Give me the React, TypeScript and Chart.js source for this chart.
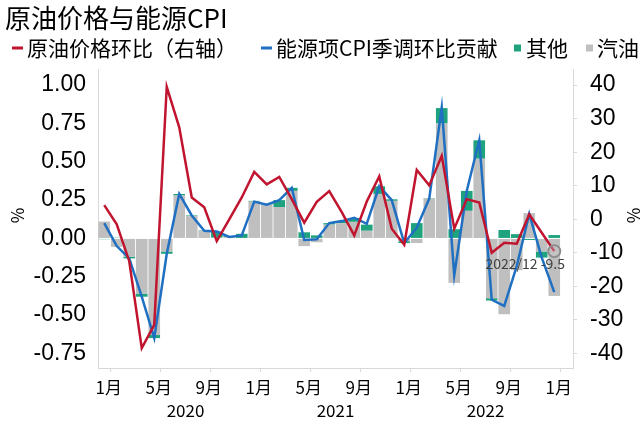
import React, { useEffect, useRef } from 'react';
import { Chart, registerables } from 'chart.js';

Chart.register(...registerables);

const TITLE = '原油价格与能源CPI';
const OIL_LABEL = '原油价格环比（右轴）';
const ENERGY_LABEL = '能源项CPI季调环比贡献';
const OTHER_LABEL = '其他';
const GAS_LABEL = '汽油';

// Dec 2019 .. Jan 2023 (last slot empty)
const months = [
  '2019-12',
  '2020-01', '2020-02', '2020-03', '2020-04', '2020-05', '2020-06',
  '2020-07', '2020-08', '2020-09', '2020-10', '2020-11', '2020-12',
  '2021-01', '2021-02', '2021-03', '2021-04', '2021-05', '2021-06',
  '2021-07', '2021-08', '2021-09', '2021-10', '2021-11', '2021-12',
  '2022-01', '2022-02', '2022-03', '2022-04', '2022-05', '2022-06',
  '2022-07', '2022-08', '2022-09', '2022-10', '2022-11', '2022-12',
  '2023-01',
];

const yearLabels = ['2020', '2021', '2022'];

// 原油价格环比 (%), right axis
const oilMoM = [
  4.2,
  -1.5, -12.5, -38.4, -31.5, 39.5, 27.4,
  6.5, 3.6, -6.5, 0.0, 6.5, 14.1,
  10.4, 12.6, 6.0, -1.0, 5.2, 8.4,
  2.1, -4.8, 5.3, 12.8, -2.8, -7.6,
  14.7, 10.1, 18.9, -2.8, 6.0, 5.0,
  -10.0, -7.0, -7.3, 1.5, -4.0, -9.5,
  null,
];

// 能源项CPI季调环比贡献 (%), left axis
const energyContribution = [
  0.10,
  -0.05, -0.13, -0.38, -0.65, -0.10, 0.29,
  0.15, 0.05, 0.045, 0.01, 0.02, 0.24,
  0.22, 0.25, 0.33, -0.01, -0.005, 0.10,
  0.113, 0.135, 0.095, 0.34, 0.25, -0.03,
  0.07, 0.26, 0.855, -0.24, 0.31, 0.64,
  -0.40, -0.44, -0.18, 0.16, -0.125, -0.35,
  null,
];

// 汽油 contribution
const gasoline = [
  0.11,
  -0.055, -0.12, -0.36, -0.63, -0.085, 0.28,
  0.145, 0.05, 0.005, 0.01, 0.0, 0.24,
  0.22, 0.205, 0.31, -0.05, -0.025, 0.09,
  0.10, 0.108, 0.05, 0.29, 0.245, -0.018,
  -0.03, 0.26, 0.75, -0.29, 0.18, 0.52,
  -0.39, -0.495, -0.207, 0.165, -0.085, -0.375,
  null,
];

// 其他 contribution
const other = [
  -0.005,
  0.005, -0.01, -0.02, -0.02, -0.015, 0.01,
  0.005, 0.003, 0.04, 0.005, 0.03, 0.005,
  0.003, 0.045, 0.02, 0.04, 0.02, 0.01,
  0.013, 0.025, 0.04, 0.05, 0.01, -0.012,
  0.10, 0.003, 0.10, 0.06, 0.13, 0.12,
  -0.015, 0.055, 0.028, -0.01, -0.04, 0.022,
  null,
];

const leftTicks = [-0.75, -0.5, -0.25, 0, 0.25, 0.5, 0.75, 1.0];
const rightTicks = [-40, -30, -20, -10, 0, 10, 20, 30, 40];

const RED = '#C0142F';
const BLUE = '#1F6FC2';
const TEAL = '#1FA37E';
const GRAY = '#BFBFBF';
const AXIS = '#D9D9D9';
const CJK = '"Noto Sans CJK SC", "Noto Sans", sans-serif';
const LATIN = '"Liberation Sans", Arial, sans-serif';

const LAST = 36;

const overlayPlugin = {
  id: 'overlay',
  afterDraw(chart: any) {
    const ctx = chart.ctx as CanvasRenderingContext2D;
    const xs = chart.scales.x;
    const area = chart.chartArea;
    ctx.save();

    // title
    ctx.fillStyle = '#000';
    ctx.textBaseline = 'middle';
    ctx.textAlign = 'left';
    ctx.font = `26px ${CJK}`;
    ctx.fillText(TITLE, 5, 18);

    // legend
    const ly = 48;
    ctx.font = `21px ${CJK}`;
    ctx.fillStyle = RED;
    ctx.fillRect(12, ly - 1.5, 11, 3);
    ctx.fillStyle = '#000';
    ctx.fillText(OIL_LABEL, 27, ly);
    ctx.fillStyle = BLUE;
    ctx.fillRect(261, ly - 1.5, 11, 3);
    ctx.fillStyle = '#000';
    ctx.fillText(ENERGY_LABEL, 276, ly);
    ctx.fillStyle = TEAL;
    ctx.fillRect(514, ly - 3.5, 7, 7);
    ctx.fillStyle = '#000';
    ctx.fillText(OTHER_LABEL, 526, ly);
    ctx.fillStyle = GRAY;
    ctx.fillRect(586, ly - 3.5, 7, 7);
    ctx.fillStyle = '#000';
    ctx.fillText(GAS_LABEL, 597, ly);

    // year labels, centered between January boundaries
    const slot = xs.getPixelForValue(1) - xs.getPixelForValue(0);
    ctx.font = `17px ${CJK}`;
    ctx.textAlign = 'center';
    yearLabels.forEach((yr) => {
      const i0 = months.indexOf(`${yr}-01`);
      const x0 = xs.getPixelForValue(i0) - slot / 2;
      const x1 = xs.getPixelForValue(i0 + 12) - slot / 2;
      ctx.fillText(yr, (x0 + x1) / 2, 411);
    });

    // % axis labels
    const midY = (area.top + area.bottom) / 2 - 3;
    ctx.font = `17px ${CJK}`;
    [18, 634].forEach((px) => {
      ctx.save();
      ctx.translate(px, midY);
      ctx.rotate(-Math.PI / 2);
      ctx.fillText('%', 0, 0);
      ctx.restore();
    });

    // annotation of last oil point
    const meta = chart.getDatasetMeta(0);
    const pt = meta.data[LAST];
    if (pt) {
      ctx.font = `14px ${CJK}`;
      ctx.fillStyle = '#404040';
      ctx.textAlign = 'center';
      const label = `${months[LAST].replace('-', '/')} ${oilMoM[LAST]}`;
      ctx.fillText(label, pt.x - 29, pt.y + 13);
    }
    ctx.restore();
  },
};

export default function App() {
  const ref = useRef<HTMLCanvasElement | null>(null);

  useEffect(() => {
    const canvas = ref.current;
    if (!canvas) return;
    const chart = new Chart(canvas, {
      type: 'bar',
      data: {
        labels: months,
        datasets: [
          {
            type: 'line',
            label: OIL_LABEL,
            data: oilMoM as any,
            yAxisID: 'y1',
            borderColor: RED,
            backgroundColor: RED,
            borderWidth: 2.5,
            tension: 0,
            order: 0,
            pointRadius: (c: any) => (c.dataIndex === LAST ? 6 : 0),
            pointBorderColor: '#8C8C8C',
            pointBackgroundColor: 'rgba(200,200,200,0.35)',
            pointBorderWidth: 2,
          } as any,
          {
            type: 'line',
            label: ENERGY_LABEL,
            data: energyContribution as any,
            yAxisID: 'y',
            stack: 'energyLine',
            borderColor: BLUE,
            backgroundColor: BLUE,
            borderWidth: 2.5,
            tension: 0,
            order: 1,
            pointRadius: 0,
          } as any,
          {
            type: 'bar',
            label: GAS_LABEL,
            data: gasoline as any,
            yAxisID: 'y',
            stack: 'bars',
            backgroundColor: GRAY,
            order: 2,
            barPercentage: 0.93,
            categoryPercentage: 1,
          } as any,
          {
            type: 'bar',
            label: OTHER_LABEL,
            data: other as any,
            yAxisID: 'y',
            stack: 'bars',
            backgroundColor: TEAL,
            order: 3,
            barPercentage: 0.93,
            categoryPercentage: 1,
          } as any,
        ],
      },
      options: {
        responsive: false,
        animation: false,
        events: [],
        layout: { padding: { top: 69, left: 0, right: 0, bottom: 0 } },
        plugins: {
          legend: { display: false },
          title: { display: false },
          tooltip: { enabled: false },
        },
        scales: {
          x: {
            type: 'category',
            stacked: true,
            offset: true,
            grid: {
              display: true,
              offset: true,
              drawOnChartArea: false,
              drawTicks: true,
              tickLength: 4,
              lineWidth: 1,
              color: (c: any) => (c.index % 4 === 1 ? AXIS : 'rgba(0,0,0,0)'),
            },
            border: { display: true, color: AXIS, width: 1 },
            ticks: {
              autoSkip: false,
              maxRotation: 0,
              minRotation: 0,
              padding: 5,
              labelOffset: -8,
              color: '#000',
              font: { family: CJK, size: 17 },
              callback: (_v: any, i: number) =>
                i % 4 === 1 ? `${parseInt(months[i].slice(5), 10)}月` : '',
            },
            afterFit: (s: any) => {
              s.height = 58;
            },
          },
          y: {
            position: 'left',
            stacked: true,
            min: -0.845,
            max: 1.105,
            afterBuildTicks: (s: any) => {
              s.ticks = leftTicks.map((v) => ({ value: v }));
            },
            grid: { drawOnChartArea: false, drawTicks: false },
            border: { display: true, color: AXIS, width: 1 },
            ticks: {
              padding: 12,
              color: '#000',
              font: { family: LATIN, size: 23 },
              callback: (v: any) => Number(v).toFixed(2),
            },
            afterFit: (s: any) => {
              s.width = 98;
            },
          },
          y1: {
            position: 'right',
            min: -44.34,
            max: 44.8,
            afterBuildTicks: (s: any) => {
              s.ticks = rightTicks.map((v) => ({ value: v }));
            },
            grid: {
              drawOnChartArea: false,
              drawTicks: true,
              tickLength: 4,
              color: AXIS,
            },
            border: { display: true, color: AXIS, width: 1 },
            ticks: {
              padding: 13,
              color: '#000',
              font: { family: LATIN, size: 23 },
              callback: (v: any) => String(v),
            },
            afterFit: (s: any) => {
              s.width = 71;
            },
          },
        },
      } as any,
      plugins: [overlayPlugin],
    });
    return () => chart.destroy();
  }, []);

  return (
    <div style={{ position: 'fixed', left: 0, top: 0, width: 644, height: 426, background: '#fff' }}>
      <canvas ref={ref} width={644} height={426} style={{ display: 'block' }} />
    </div>
  );
}
